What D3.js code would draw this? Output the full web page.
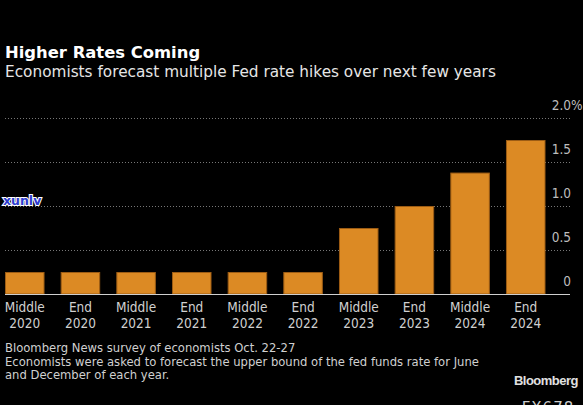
<!DOCTYPE html>
<html><head><meta charset="utf-8">
<script src="https://cdn.jsdelivr.net/npm/d3@7"></script>
<style>
html,body{margin:0;padding:0;background:#000;}
svg{display:block;}
</style></head>
<body>
<script>
const periods = ["Middle","End","Middle","End","Middle","End","Middle","End","Middle","End"];
const years = ["2020","2020","2021","2021","2022","2022","2023","2023","2024","2024"];
const rates = [0.25,0.25,0.25,0.25,0.25,0.25,0.75,1.0,1.38,1.75];
const yTicks = [0,0.5,1.0,1.5,2.0];
const yTickLabels = ["0","0.5","1.0","1.5","2.0"];

const W=583,H=405;
const SANS="'DejaVu Sans', sans-serif";
const COND="'DejaVu Sans Condensed', 'DejaVu Sans', sans-serif";
const ARIAL="'Liberation Sans', Arial, sans-serif";
const svg=d3.select("body").append("svg").attr("width",W).attr("height",H).style("background","#000");

const cats=periods.map((p,i)=>i);
const x=d3.scaleBand().domain(cats).range([5,545.5]).paddingInner(0.29).paddingOuter(0);
const y=d3.scaleLinear().domain([0,2]).range([294,118]);

// title
svg.append("text").attr("x",5).attr("y",58).attr("fill","#fff").attr("font-family",SANS)
  .attr("font-weight","bold").attr("font-size",16.4).text("Higher Rates Coming");
svg.append("text").attr("x",5).attr("y",77).attr("fill","#e6e6e6").attr("font-family",SANS)
  .attr("font-size",15.3).text("Economists forecast multiple Fed rate hikes over next few years");

// grid
const yAxis=d3.axisRight(y).tickValues(yTicks.slice(1)).tickSize(565).tickFormat("");
const g=svg.append("g").attr("transform","translate(5,0)").call(yAxis);
g.select(".domain").remove();
g.selectAll(".tick line").attr("stroke","#777").attr("stroke-dasharray","1,2");

// y labels
const lab=svg.append("g");
yTicks.forEach((v,i)=>{
  lab.append("text").attr("x",571).attr("y",y(v)-8).attr("text-anchor","end")
    .attr("fill","#bdbdbd").attr("font-family",COND).attr("font-size",13.5).text(yTickLabels[i]);
  if(i===yTicks.length-1){
    lab.append("text").attr("x",571).attr("y",y(v)-8)
      .attr("fill","#bdbdbd").attr("font-family",COND).attr("font-size",13.5).text("%");
  }
});

// bars
svg.append("g").selectAll("rect").data(rates).join("rect")
  .attr("x",(d,i)=>x(i)+0.5).attr("width",x.bandwidth()-1)
  .attr("y",d=>y(d)+0.5).attr("height",d=>y(0)-y(d)-0.5)
  .attr("fill","#dc8a24").attr("stroke","#9c5c14").attr("stroke-width",1);

// baseline
svg.append("line").attr("x1",5).attr("x2",570).attr("y1",y(0)+0.5).attr("y2",y(0)+0.5)
  .attr("stroke","#cfcfcf").attr("stroke-width",1);

// x labels
const xl=svg.append("g");
cats.forEach(i=>{
  const cx=x(i)+x.bandwidth()/2;
  xl.append("text").attr("x",cx).attr("y",311.5).attr("text-anchor","middle").attr("fill","#d0d0d0")
    .attr("font-family",COND).attr("font-size",13.5).text(periods[i]);
  xl.append("text").attr("x",cx).attr("y",328).attr("text-anchor","middle").attr("fill","#d0d0d0")
    .attr("font-family",COND).attr("font-size",13.5).text(years[i]);
});

// footnotes
const notes=["Bloomberg News survey of economists Oct. 22-27",
 "Economists were asked to forecast the upper bound of the fed funds rate for June",
 "and December of each year."];
notes.forEach((t,i)=>{
  svg.append("text").attr("x",5).attr("y",352+i*13.5).attr("fill","#d0d0d0")
    .attr("font-family",SANS).attr("font-size",11.6).text(t);
});
svg.append("text").attr("x",578).attr("y",385).attr("text-anchor","end").attr("fill","#e0e0e0")
  .attr("font-family",ARIAL).attr("font-weight","bold").attr("font-size",13).attr("letter-spacing",-0.5).text("Bloomberg");
svg.append("text").attr("x",548).attr("y",413).attr("text-anchor","middle").attr("fill","#cfcfcf")
  .attr("font-family",SANS).attr("font-size",15).attr("letter-spacing",1).text("FX678");

// watermark
svg.append("text").attr("x",3).attr("y",205).attr("fill","#2d3cd0").attr("stroke","#fff").attr("stroke-width",2)
  .attr("paint-order","stroke").attr("font-family",SANS).attr("font-weight","bold").attr("font-size",12.5).text("xunlv");
</script>
</body></html>
